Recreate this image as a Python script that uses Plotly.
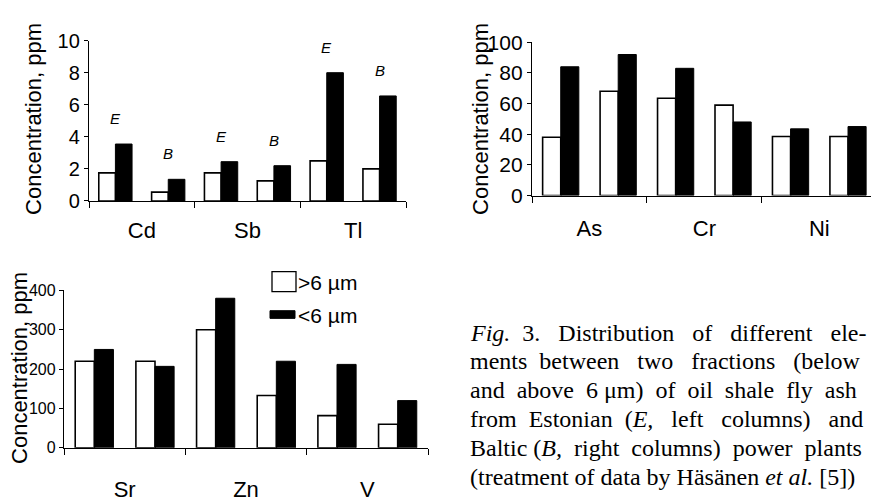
import plotly.graph_objects as go

# ---------------- data ----------------
sites = ["E", "B"]

p1_elements = ["Cd", "Sb", "Tl"]
p1_coarse = [1.75, 0.55, 1.75, 1.25, 2.5, 2.0]     # > 6 µm  (E, B for each element)
p1_fine = [3.55, 1.35, 2.45, 2.2, 8.0, 6.55]        # < 6 µm
p1_yticks = [0, 2, 4, 6, 8, 10]

p2_elements = ["As", "Cr", "Ni"]
p2_coarse = [38, 68, 63.5, 59, 38.5, 38.5]
p2_fine = [84, 92, 83, 48, 43.5, 45]
p2_yticks = [0, 20, 40, 60, 80, 100]

p3_elements = ["Sr", "Zn", "V"]
p3_coarse = [220, 220, 300, 133, 82, 60]
p3_fine = [250, 207, 380, 220, 212, 120]
p3_yticks = [0, 100, 200, 300, 400]

legend_labels = ["&gt;6 µm", "&lt;6 µm"]
y_title = "Concentration, ppm"

caption_words = [
    ["<i>Fig.</i>", "3.", "Distribution", "of", "different", "ele-"],
    ["ments", "between", "two", "fractions", "(below"],
    ["and", "above", "6 μm)", "of", "oil", "shale", "fly", "ash"],
    ["from", "Estonian", "(<i>E,</i>", "left", "columns)", "and"],
    ["Baltic", "(<i>B,</i>", "right", "columns)", "power", "plants"],
    ["(treatment", "of", "data", "by", "Häsänen", "<i>et</i>", "<i>al.</i>", "[5])"],
]
caption_pad = [9, 7, 7, 8, 4, 0]   # extra no-break spaces per line (justification)

# ---------------- layout helpers ----------------
W, H = 871, 504
SANS = "Liberation Sans"
SERIF = "Liberation Serif"


def px(x):
    return x / W


def py(y):
    return 1 - y / H


def justify(words, pad):
    gaps = len(words) - 1
    out = words[0]
    for g in range(gaps):
        extra = pad // gaps + (1 if (gaps - 1 - g) < pad % gaps else 0)
        out += " " + "\u00a0" * extra + words[g + 1]
    return out


fig = go.Figure()

panels = [
    # elements, coarse, fine, yticks, axes, x-domain px, y-domain px, xrange_end, ytick size, standoff
    (p1_elements, p1_coarse, p1_fine, p1_yticks, "x", "y", (89, 406), (198, 30), None, 20, 9),
    (p2_elements, p2_coarse, p2_fine, p2_yticks, "x2", "y2", (532, 871), (192.3, 31.7), 5.4, 21, 13),
    (p3_elements, p3_coarse, p3_fine, p3_yticks, "x3", "y3", (64, 428), (456.7, 291.7), None, 16, 22),
]

for k, (els, coarse, fine, yt, xa, ya, xd, yd, xend, ysz, stand) in enumerate(panels):
    n = len(els) * len(sites)
    idx = list(range(n))
    fig.add_trace(go.Bar(x=idx, y=coarse, xaxis=xa, yaxis=ya,
                         marker=dict(color="white", line=dict(color="black", width=1.6)),
                         showlegend=False, offsetgroup="c%d" % k))
    fig.add_trace(go.Bar(x=idx, y=fine, xaxis=xa, yaxis=ya,
                         marker=dict(color="black", line=dict(color="black", width=1)),
                         showlegend=False, offsetgroup="f%d" % k))
    centers = [i * len(sites) + (len(sites) - 1) / 2 for i in range(len(els))]
    bounds = [i * len(sites) - 0.5 for i in range(len(els) + 1)]
    suffix = "" if k == 0 else str(k + 1)
    fig.layout["xaxis" + suffix] = dict(
        domain=[px(xd[0]), px(xd[1])],
        range=[-0.5, xend if xend is not None else n - 0.5],
        anchor=ya, showline=True, linecolor="black", linewidth=1.3,
        tickmode="array", tickvals=centers, ticktext=els, ticks="",
        tickfont=dict(family=SANS, size=22, color="black"),
        ticklabelstandoff=stand,
        minor=dict(tickmode="array", tickvals=bounds, ticks="outside", ticklen=6,
                   tickcolor="black", tickwidth=1.3),
        showgrid=False, zeroline=False, fixedrange=True,
    )
    fig.layout["yaxis" + suffix] = dict(
        domain=[py(yd[0]), py(yd[1])],
        range=[0, yt[-1]], anchor=xa,
        showline=True, linecolor="black", linewidth=1.3,
        tickmode="array", tickvals=yt, ticks="outside", ticklen=4, tickwidth=1.3,
        tickcolor="black",
        tickfont=dict(family=SANS, size=ysz, color="black"),
        showgrid=False, zeroline=False, fixedrange=True,
    )

# E / B labels above the Cd-Sb-Tl pairs
for i in range(len(p1_coarse)):
    fig.add_annotation(x=i, y=max(p1_coarse[i], p1_fine[i]) + 1.6, xref="x", yref="y",
                       text="<i>%s</i>" % sites[i % len(sites)], showarrow=False,
                       xanchor="center", yanchor="middle",
                       font=dict(family=SANS, size=15, color="black"))

# y-axis titles
for (xc, yc) in [(34, 112), (481, 112), (20, 373)]:
    fig.add_annotation(x=px(xc), y=py(yc), xref="paper", yref="paper",
                       text=y_title, textangle=-90, showarrow=False,
                       xanchor="center", yanchor="middle",
                       font=dict(family=SANS, size=22, color="black"))

# legend (drawn manually)
fig.add_shape(type="rect", xref="paper", yref="paper",
              x0=px(272), x1=px(296), y0=py(293), y1=py(272),
              fillcolor="white", line=dict(color="black", width=1.3))
fig.add_shape(type="rect", xref="paper", yref="paper",
              x0=px(270), x1=px(295), y0=py(321), y1=py(313),
              fillcolor="black", line=dict(color="black", width=1))
for lab, yc in zip(legend_labels, [283, 318]):
    fig.add_annotation(x=px(296), y=py(yc), xref="paper", yref="paper",
                       xanchor="left", yanchor="middle", text=lab, showarrow=False,
                       font=dict(family=SANS, size=21, color="black"))

# caption (justified by hand)
for j, (words, pad) in enumerate(zip(caption_words, caption_pad)):
    fig.add_annotation(x=px(468), y=py(336 + 30.2 * j), xref="paper", yref="paper",
                       xanchor="left", yanchor="middle", text=justify(words, pad),
                       showarrow=False,
                       font=dict(family=SERIF, size=24, color="black"))

fig.update_layout(
    width=W, height=H, margin=dict(l=0, r=0, t=0, b=0),
    paper_bgcolor="white", plot_bgcolor="white",
    barmode="group", bargap=0.37, bargroupgap=0,
    showlegend=False,
)

fig.write_html("out.html", config={"displayModeBar": False},
               post_script="document.body.style.margin='0px';"
                           "document.body.style.overflow='hidden';")
